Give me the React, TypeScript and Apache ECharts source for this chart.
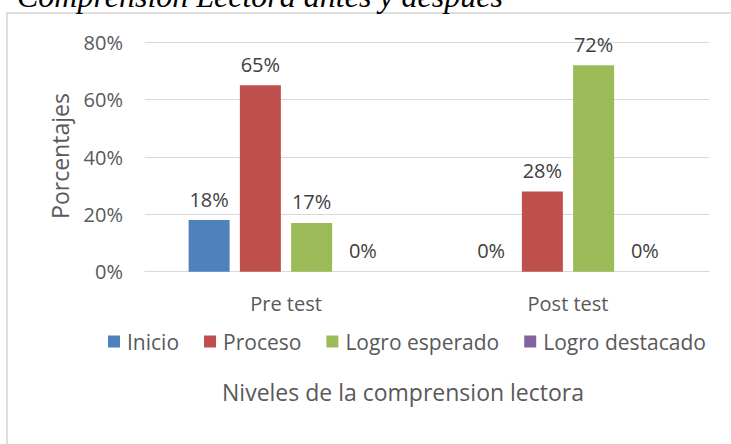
import React, { useEffect, useRef } from "react";
import * as echarts from "echarts";

const categories = ["Pre test", "Post test"];
const seriesNames = ["Inicio", "Proceso", "Logro esperado", "Logro destacado"];
const inicio = [18, 0];
const proceso = [65, 28];
const logroEsperado = [17, 72];
const logroDestacado = [0, 0];
const yMin = 0;
const yMax = 80;
const yInterval = 20;
const colors = ["#4f81bd", "#c0504d", "#9bbb59", "#8064a2"];
const chartTitle = "Comprensión Lectora antes y después";
const xTitle = "Niveles de la comprension lectora";
const yTitle = "Porcentajes";

const FONT = "'Open Sans', 'Noto Sans', sans-serif";

export default function App() {
  const ref = useRef<HTMLDivElement>(null);
  useEffect(() => {
    if (!ref.current) return;
    const chart = echarts.init(ref.current, undefined, { renderer: "svg" });
    const values = [inicio, proceso, logroEsperado, logroDestacado];
    chart.setOption({
      animation: false,
      backgroundColor: "#ffffff",
      color: colors,
      grid: { left: 145, right: 22, top: 42.3, bottom: 172.3, containLabel: false },
      legend: {
        left: 103,
        top: 326,
        itemWidth: 12,
        itemHeight: 12,
        itemGap: 25,
        icon: "rect",
        data: seriesNames,
        textStyle: { color: "#595959", fontSize: 21, fontFamily: FONT, padding: [0, 0, 0, 2] },
      },
      xAxis: {
        type: "category",
        data: categories,
        axisLine: { lineStyle: { color: "#d9d9d9", width: 1 } },
        axisTick: { show: false },
        axisLabel: { margin: 22, color: "#595959", fontSize: 20, fontFamily: FONT },
      },
      yAxis: {
        type: "value",
        min: yMin,
        max: yMax,
        interval: yInterval,
        axisLine: { show: false },
        axisTick: { show: false },
        axisLabel: { formatter: "{value}%", margin: 22, color: "#595959", fontSize: 20, fontFamily: FONT },
        splitLine: { lineStyle: { color: "#d9d9d9", width: 1 } },
      },
      series: seriesNames.map((name, i) => ({
        name,
        type: "bar",
        data: values[i],
        barWidth: 41,
        barGap: "25%",
        itemStyle: { color: colors[i] },
        label: {
          show: true,
          position: "top",
          distance: 11,
          formatter: "{c}%",
          color: "#404040",
          fontSize: 20,
          fontFamily: FONT,
        },
      })),
      graphic: [
        {
          type: "rect",
          shape: { x: 7, y: 13, width: 900, height: 600 },
          style: { fill: "none", stroke: "#d4d4d4", lineWidth: 1.5 },
          silent: true,
        },
        {
          type: "text",
          x: 17,
          y: -4,
          style: {
            text: chartTitle,
            fill: "#000000",
            fontSize: 32,
            fontStyle: "italic",
            fontFamily: "'Liberation Serif', 'DejaVu Serif', serif",
            align: "left",
            verticalAlign: "middle",
          },
        },
        {
          type: "text",
          x: 60,
          y: 156,
          rotation: Math.PI / 2,
          style: {
            text: yTitle,
            fill: "#595959",
            fontSize: 23,
            fontFamily: FONT,
            align: "center",
            verticalAlign: "middle",
          },
        },
        {
          type: "text",
          x: 403,
          y: 392,
          style: {
            text: xTitle,
            fill: "#595959",
            fontSize: 23,
            fontFamily: FONT,
            align: "center",
            verticalAlign: "middle",
          },
        },
      ],
    });
    return () => chart.dispose();
  }, []);
  return (
    <div
      ref={ref}
      style={{ position: "fixed", left: 0, top: 0, width: 731, height: 444 }}
    />
  );
}
